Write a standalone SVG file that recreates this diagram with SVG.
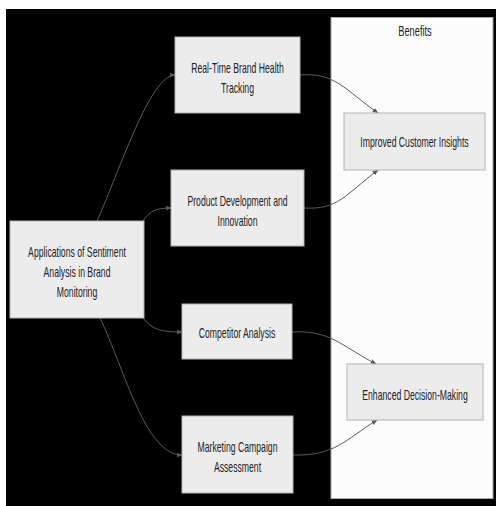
<svg xmlns="http://www.w3.org/2000/svg" width="496" height="506" viewBox="0 0 496 506">
<defs>
<style>
.node rect{fill:#ececec;stroke:#b4b4b4;stroke-width:1}
.lbl{font-family:"Liberation Sans",Arial,sans-serif;font-size:14px;fill:#222;text-anchor:middle}
.edge{fill:none;stroke:#5a5a5a;stroke-width:1}
</style>
<marker id="ah" viewBox="0 0 10 10" refX="9" refY="5" markerWidth="6" markerHeight="6" orient="auto-start-reverse">
<path d="M0,1 L10,5 L0,9 z" fill="#5a5a5a"/>
</marker>
</defs>
<rect x="0" y="0" width="496" height="506" fill="#ffffff"/>
<rect x="6" y="9" width="490" height="497" fill="#000000"/>
<g id="cluster-benefits">
<rect x="331" y="17.5" width="162" height="481" fill="#fcfcfc" stroke="#aaaaaa" stroke-width="1"/>
<g transform="translate(415,0) scale(0.66,1)"><text class="lbl" x="0" y="36">Benefits</text></g>
</g>
<g id="connectors">
<path class="edge" marker-end="url(#ah)" d="M97,221 C120,170 150,75 175,75"/>
<path class="edge" marker-end="url(#ah)" d="M143,221 C150,210 158,208 171,208"/>
<path class="edge" marker-end="url(#ah)" d="M143,318 C152,330 162,332 182,332"/>
<path class="edge" marker-end="url(#ah)" d="M100,318 C125,370 145,455 182,455"/>
<path class="edge" marker-end="url(#ah)" d="M300,75 C335,72 345,90 378,113"/>
<path class="edge" marker-end="url(#ah)" d="M304,208 C338,210 345,195 378,170"/>
<path class="edge" marker-end="url(#ah)" d="M292,332 C330,330 340,345 376,364"/>
<path class="edge" marker-end="url(#ah)" d="M293,455 C335,456 345,440 377,420"/>
</g>
<g id="node-app" class="node">
<rect x="10" y="221" width="134" height="97"/>
<g transform="translate(77,0) scale(0.62,1)">
<text class="lbl" x="0" y="257">Applications of Sentiment</text>
<text class="lbl" x="0" y="277">Analysis in Brand</text>
<text class="lbl" x="0" y="297">Monitoring</text>
</g>
</g>
<g id="node-realtime" class="node">
<rect x="175" y="37" width="125" height="76"/>
<g transform="translate(237.5,0) scale(0.62,1)">
<text class="lbl" x="0" y="73">Real-Time Brand Health</text>
<text class="lbl" x="0" y="93">Tracking</text>
</g>
</g>
<g id="node-product" class="node">
<rect x="171" y="170" width="133" height="76"/>
<g transform="translate(237.5,0) scale(0.62,1)">
<text class="lbl" x="0" y="206">Product Development and</text>
<text class="lbl" x="0" y="226">Innovation</text>
</g>
</g>
<g id="node-competitor" class="node">
<rect x="182" y="304" width="110" height="55"/>
<g transform="translate(237,0) scale(0.62,1)">
<text class="lbl" x="0" y="338">Competitor Analysis</text>
</g>
</g>
<g id="node-marketing" class="node">
<rect x="182" y="416" width="111" height="77"/>
<g transform="translate(237.5,0) scale(0.62,1)">
<text class="lbl" x="0" y="452">Marketing Campaign</text>
<text class="lbl" x="0" y="472">Assessment</text>
</g>
</g>
<g id="node-insights" class="node">
<rect x="344" y="113" width="141" height="57"/>
<g transform="translate(414.5,0) scale(0.62,1)">
<text class="lbl" x="0" y="147">Improved Customer Insights</text>
</g>
</g>
<g id="node-decision" class="node">
<rect x="347" y="364" width="136" height="56"/>
<g transform="translate(415,0) scale(0.62,1)">
<text class="lbl" x="0" y="400">Enhanced Decision-Making</text>
</g>
</g>
</svg>
